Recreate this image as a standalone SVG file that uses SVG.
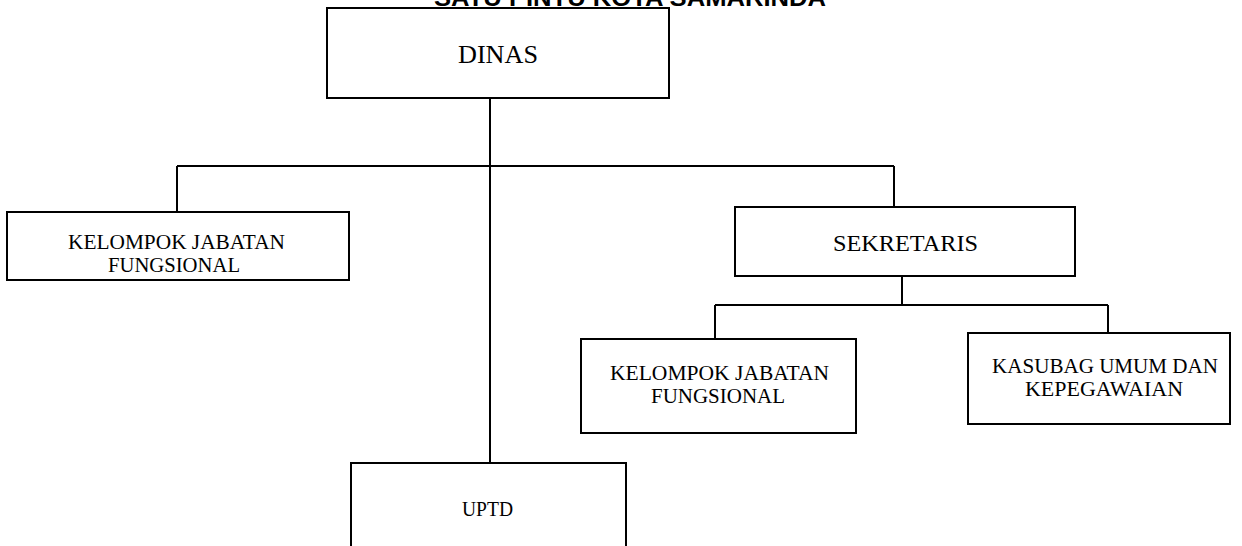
<svg xmlns="http://www.w3.org/2000/svg" width="1242" height="546" viewBox="0 0 1242 546">
<style>
.box{fill:#fff;stroke:#000;stroke-width:2}
.ln{fill:none;stroke:#000;stroke-width:2}
.t{font-family:"Liberation Serif","Times New Roman",serif;fill:#000;text-anchor:middle}
.s{font-size:22px}
.title{font-family:"Liberation Sans",Arial,sans-serif;font-weight:bold;font-size:24px;fill:#000;text-anchor:middle}
</style>
<rect width="1242" height="546" fill="#fff"/>
<text class="title" x="630" y="6" textLength="392" lengthAdjust="spacingAndGlyphs">SATU PINTU KOTA SAMARINDA</text>
<g id="connectors">
<path class="ln" d="M490,98 V463"/>
<path class="ln" d="M177,166 H894" stroke-width="2.5"/>
<path class="ln" d="M177,166 V212"/>
<path class="ln" d="M894,166 V207"/>
<path class="ln" d="M902,276 V305"/>
<path class="ln" d="M715,305 H1108"/>
<path class="ln" d="M715,305 V339"/>
<path class="ln" d="M1108,305 V333"/>
</g>
<g id="dinas">
<rect class="box" x="327" y="8" width="342" height="90"/>
<text class="t" x="498" y="63" font-size="26" textLength="80" lengthAdjust="spacingAndGlyphs">DINAS</text>
</g>
<g id="kjf-left">
<rect class="box" x="7" y="212" width="342" height="68"/>
<text class="t s" x="176.5" y="249" textLength="217" lengthAdjust="spacingAndGlyphs">KELOMPOK JABATAN</text>
<text class="t s" x="174" y="272" textLength="132" lengthAdjust="spacingAndGlyphs">FUNGSIONAL</text>
</g>
<g id="sekretaris">
<rect class="box" x="735" y="207" width="340" height="69"/>
<text class="t" x="905.5" y="251" font-size="24" textLength="145" lengthAdjust="spacingAndGlyphs">SEKRETARIS</text>
</g>
<g id="kjf-right">
<rect class="box" x="581" y="339" width="275" height="94"/>
<text class="t s" x="719.5" y="380" textLength="219" lengthAdjust="spacingAndGlyphs">KELOMPOK JABATAN</text>
<text class="t s" x="718" y="403" textLength="134" lengthAdjust="spacingAndGlyphs">FUNGSIONAL</text>
</g>
<g id="kasubag">
<rect class="box" x="968" y="333" width="262" height="91"/>
<text class="t s" x="1105" y="373" textLength="226" lengthAdjust="spacingAndGlyphs">KASUBAG UMUM DAN</text>
<text class="t s" x="1104" y="396" textLength="158" lengthAdjust="spacingAndGlyphs">KEPEGAWAIAN</text>
</g>
<g id="uptd">
<rect class="box" x="351" y="463" width="275" height="100"/>
<text class="t s" x="487.5" y="516" textLength="51" lengthAdjust="spacingAndGlyphs">UPTD</text>
</g>
</svg>
